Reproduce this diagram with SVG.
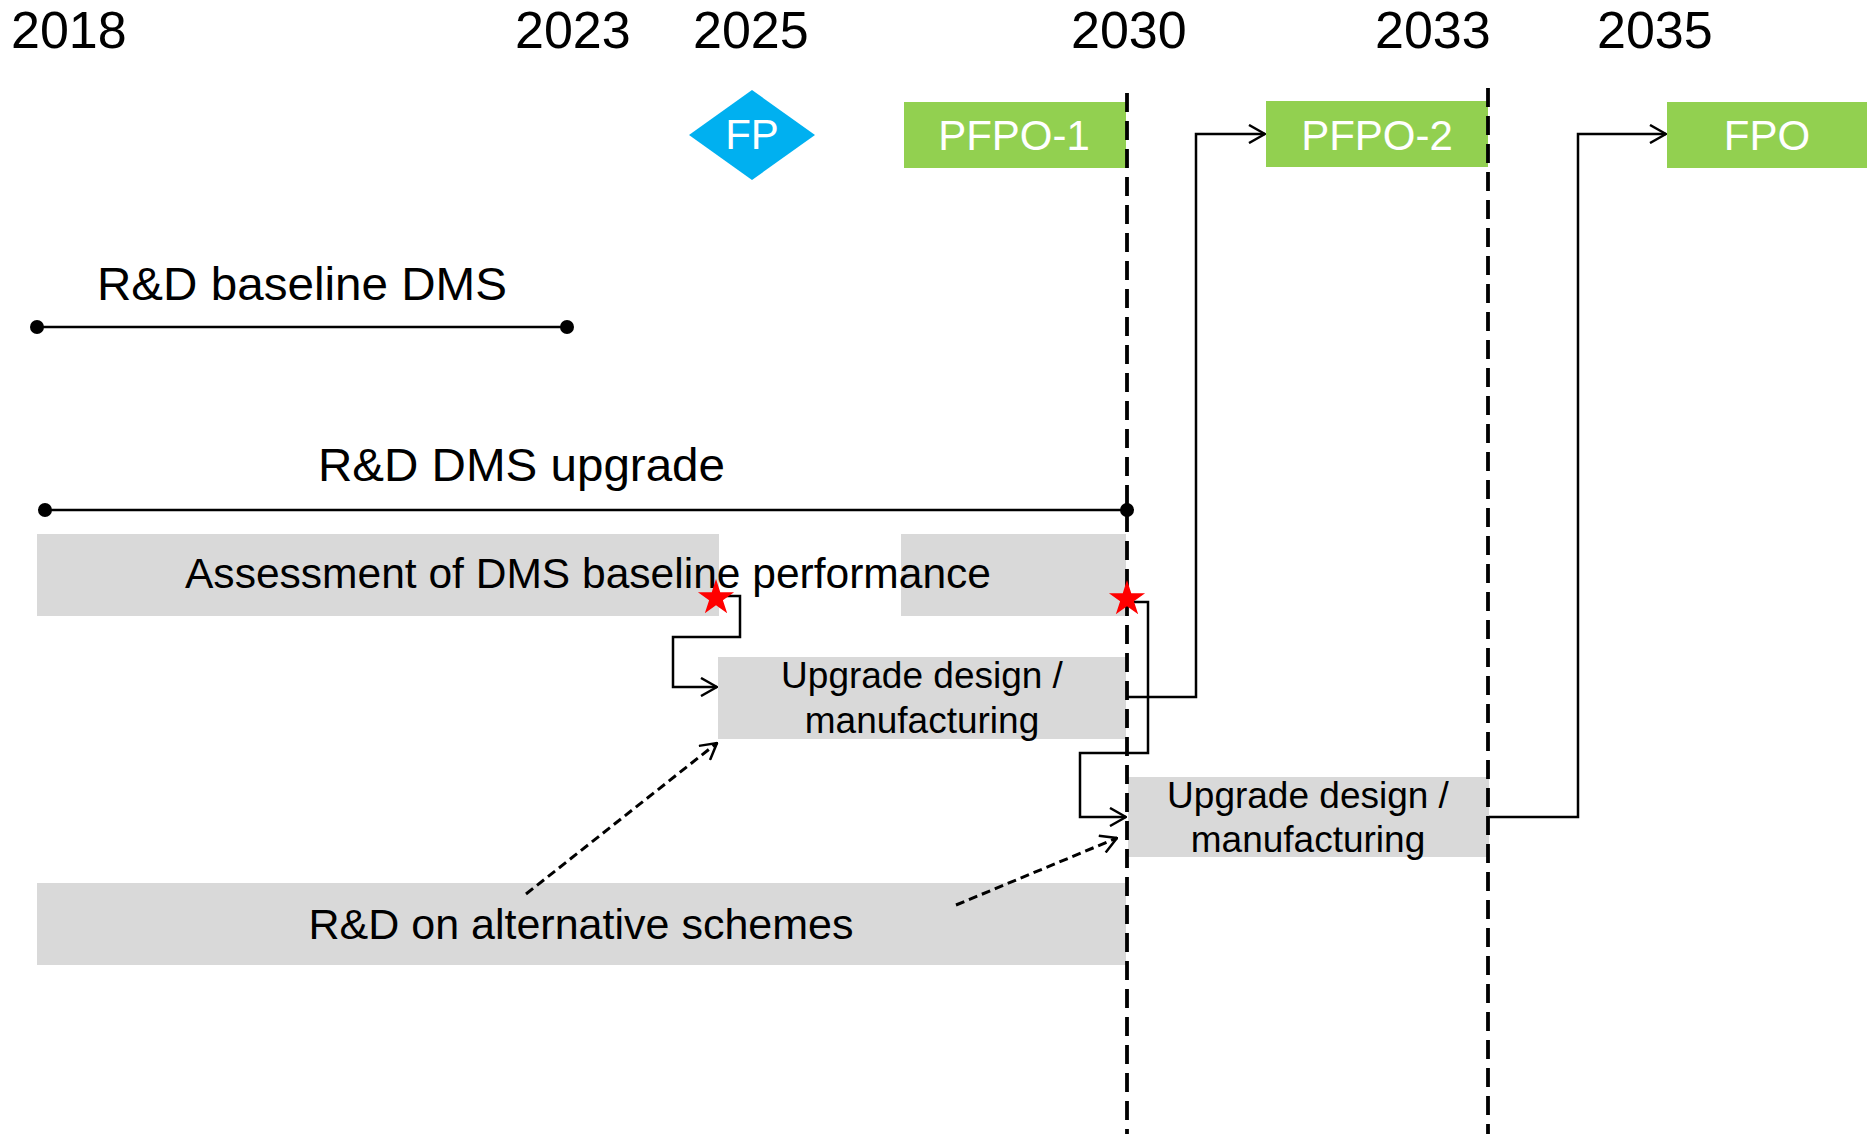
<svg xmlns="http://www.w3.org/2000/svg" width="1872" height="1134" viewBox="0 0 1872 1134">
<style>
text{font-family:"Liberation Sans",Arial,sans-serif;fill:#000}
.yr{font-size:52px}
.lbl{font-size:46px}
.bar{fill:#D9D9D9}
.g{fill:#92D050}
.wt{fill:#fff;font-size:42px;text-anchor:middle}
.ud{font-size:37px;text-anchor:middle}
.conn{fill:none;stroke:#000;stroke-width:2.5}
.dconn{fill:none;stroke:#000;stroke-width:3;stroke-dasharray:9 5}
.vdash{stroke:#000;stroke-width:3.8;stroke-dasharray:19 9}
.tl{stroke:#000;stroke-width:2.7}
.star{fill:#FF0000}
</style>
<defs>
<marker id="arr" viewBox="0 0 18 20" refX="17" refY="10" markerWidth="18" markerHeight="20" markerUnits="userSpaceOnUse" orient="auto">
<path d="M1,1 L17,10 L1,19" fill="none" stroke="#000" stroke-width="2.5"/>
</marker>
<polygon id="starshape" points="0,-19 4.26,-5.87 18.07,-5.87 6.89,2.24 11.17,15.37 0,7.24 -11.17,15.37 -6.89,2.24 -18.07,-5.87 -4.26,-5.87"/>
</defs>

<g id="years">
<text class="yr" x="11" y="48">2018</text>
<text class="yr" x="515" y="48">2023</text>
<text class="yr" x="693" y="48">2025</text>
<text class="yr" x="1071" y="48">2030</text>
<text class="yr" x="1375" y="48">2033</text>
<text class="yr" x="1597" y="48">2035</text>
</g>

<g id="milestone-fp">
<polygon points="752,90 815,135 752,180 689,135" fill="#00B0F0"/>
<text class="wt" x="752" y="149">FP</text>
</g>
<g id="milestone-pfpo1">
<rect class="g" x="904" y="102" width="222" height="66"/>
<text class="wt" x="1014" y="150">PFPO-1</text>
</g>
<g id="milestone-pfpo2">
<rect class="g" x="1266" y="101" width="222" height="66"/>
<text class="wt" x="1377" y="150">PFPO-2</text>
</g>
<g id="milestone-fpo">
<rect class="g" x="1667" y="102" width="200" height="66"/>
<text class="wt" x="1767" y="150">FPO</text>
</g>

<g id="rd-baseline">
<text class="lbl" x="97" y="300" textLength="410" lengthAdjust="spacingAndGlyphs">R&amp;D baseline DMS</text>
<line class="tl" x1="37" y1="327" x2="567" y2="327"/>
<circle cx="37" cy="327" r="7"/>
<circle cx="567" cy="327" r="7"/>
</g>

<g id="rd-upgrade">
<text class="lbl" x="318" y="481" textLength="407" lengthAdjust="spacingAndGlyphs">R&amp;D DMS upgrade</text>
<line class="tl" x1="45" y1="510" x2="1127" y2="510"/>
<circle cx="45" cy="510" r="7"/>
<circle cx="1127" cy="510" r="7"/>
</g>

<g id="assessment">
<rect class="bar" x="37" y="534" width="682" height="82"/>
<rect class="bar" x="901" y="534" width="225" height="82"/>
<text x="185" y="588" style="font-size:43px" textLength="806" lengthAdjust="spacingAndGlyphs">Assessment of DMS baseline performance</text>
</g>

<g id="upgrade-1">
<rect class="bar" x="718" y="657" width="408" height="82"/>
<text class="ud" x="922" y="688">Upgrade design /</text>
<text class="ud" x="922" y="733">manufacturing</text>
</g>

<g id="upgrade-2">
<rect class="bar" x="1128" y="777" width="361" height="80"/>
<text class="ud" x="1308" y="808">Upgrade design /</text>
<text class="ud" x="1308" y="852">manufacturing</text>
</g>

<g id="rd-alternative">
<rect class="bar" x="37" y="883" width="1089" height="82"/>
<text x="581" y="939" style="font-size:43px;text-anchor:middle">R&amp;D on alternative schemes</text>
</g>

<g id="guides">
<line class="vdash" x1="1127" y1="93" x2="1127" y2="1134"/>
<line class="vdash" x1="1488" y1="88" x2="1488" y2="1134"/>
</g>

<g id="connectors">
<polyline class="conn" points="716,596 740,596 740,637 673,637 673,687 717,687" marker-end="url(#arr)"/>
<polyline class="conn" points="1127,602 1148,602 1148,753 1080,753 1080,817 1126,817" marker-end="url(#arr)"/>
<polyline class="conn" points="1127,697 1196,697 1196,134 1265,134" marker-end="url(#arr)"/>
<polyline class="conn" points="1489,817 1578,817 1578,134 1666,134" marker-end="url(#arr)"/>
<line class="dconn" x1="526" y1="894" x2="717" y2="743" marker-end="url(#arr)"/>
<line class="dconn" x1="956" y1="905" x2="1117" y2="838" marker-end="url(#arr)"/>
</g>

<g id="stars">
<use href="#starshape" class="star" x="716" y="598"/>
<use href="#starshape" class="star" x="1127" y="599"/>
</g>
</svg>
